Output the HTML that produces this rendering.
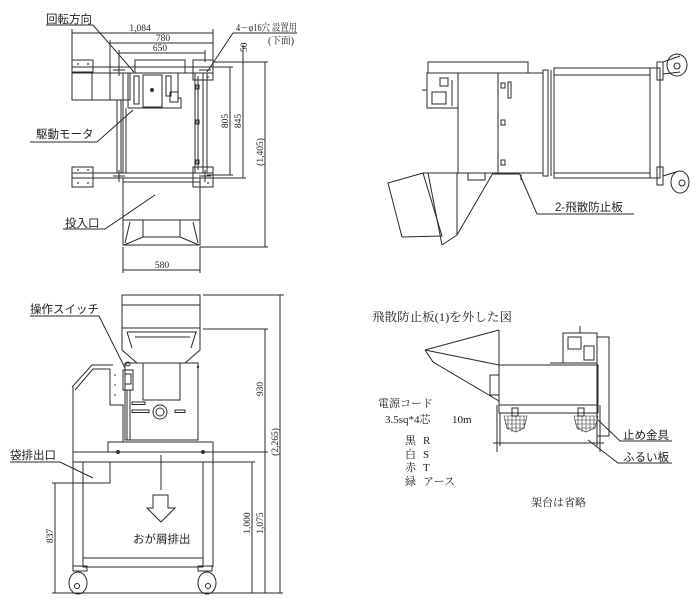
<!DOCTYPE html>
<html><head><meta charset="utf-8">
<style>
html,body{margin:0;padding:0;background:#fff;}
svg{display:block;}
.j{font-family:"Liberation Sans","Noto Sans CJK JP",sans-serif;font-size:11.5px;fill:#222;}
.m{font-family:"Liberation Serif","Noto Serif CJK SC",serif;font-size:11px;fill:#222;}
.d{font-family:"Liberation Serif",serif;font-size:9.5px;fill:#222;}
</style></head>
<body>
<svg width="700" height="599" viewBox="0 0 700 599" xmlns="http://www.w3.org/2000/svg">
<rect width="700" height="599" fill="#fff"/>

<!-- ================= TOP-LEFT PLAN VIEW ================= -->
<g stroke="#2a2a2a" stroke-width="1" fill="none">
  <line x1="72" y1="33" x2="213" y2="33"/>
  <line x1="110" y1="43" x2="213" y2="43"/>
  <line x1="119" y1="53" x2="205" y2="53"/>
  <line x1="72" y1="29" x2="72" y2="60"/>
  <line x1="213" y1="29" x2="213" y2="60"/>
  <line x1="110" y1="40" x2="110" y2="76"/>
  <line x1="119" y1="50" x2="119" y2="76"/>
  <line x1="205" y1="50" x2="205" y2="62"/>
  <line x1="213" y1="62" x2="268" y2="62"/>
  <line x1="207" y1="67" x2="233" y2="67"/>
  <line x1="207" y1="175" x2="233" y2="175"/>
  <line x1="210" y1="178" x2="246" y2="178"/>
  <line x1="200" y1="247" x2="268" y2="247"/>
  <line x1="230" y1="67" x2="230" y2="175"/>
  <line x1="243" y1="45" x2="243" y2="178"/>
  <line x1="265" y1="62" x2="265" y2="247"/>
  <line x1="123" y1="247" x2="123" y2="273"/>
  <line x1="200" y1="247" x2="200" y2="273"/>
  <line x1="123" y1="270" x2="200" y2="270"/>

  <polyline points="46,25 93,25 134,72"/>
  <polyline points="297,33 233,33 207,72"/>
  <polyline points="30,142 97,142 133,110"/>
  <polyline points="63,229 105,229 155,195"/>

  <rect x="72" y="60" width="21" height="12"/>
  <line x1="72" y1="67" x2="213" y2="67"/>
  <line x1="72" y1="73" x2="213" y2="73"/>
  <rect x="135" y="60" width="50" height="13"/>
  <rect x="193" y="60" width="20" height="20"/>
  <rect x="72" y="73" width="58" height="27"/>
  <line x1="92" y1="73" x2="92" y2="100"/>
  <line x1="110" y1="73" x2="110" y2="100"/>
  <rect x="123" y="73" width="80" height="100"/>
  <line x1="128" y1="73" x2="128" y2="108"/>
  <line x1="178" y1="73" x2="178" y2="98"/>
  <polyline points="178,98 181,98 181,108 128,108"/>
  <line x1="126" y1="108" x2="126" y2="173"/>
  <line x1="117" y1="100" x2="117" y2="173"/>
  <line x1="121" y1="100" x2="121" y2="173"/>
  <line x1="195" y1="73" x2="195" y2="173"/>
  <line x1="198" y1="76" x2="198" y2="170"/>
  <line x1="207" y1="73" x2="207" y2="173"/>
  <rect x="143" y="75" width="19" height="32"/>
  <rect x="134" y="76" width="5" height="28"/>
  <rect x="166" y="76" width="5" height="20"/>
  <rect x="170" y="92" width="8" height="10"/>
  <rect x="196" y="85" width="3" height="4"/>
  <rect x="196" y="120" width="3" height="4"/>
  <rect x="196" y="160" width="3" height="4"/>
  <line x1="72" y1="173" x2="213" y2="173"/>
  <line x1="72" y1="178" x2="213" y2="178"/>
  <rect x="72" y="167" width="21" height="20"/>
  <rect x="193" y="167" width="20" height="20"/>
  <line x1="113" y1="70" x2="125" y2="70"/><line x1="119" y1="64" x2="119" y2="76"/>
  <line x1="199" y1="70" x2="211" y2="70"/>
  <line x1="113" y1="176" x2="125" y2="176"/><line x1="119" y1="170" x2="119" y2="182"/>
  <line x1="199" y1="176" x2="211" y2="176"/><line x1="205" y1="170" x2="205" y2="182"/>

  <rect x="123" y="178" width="77" height="42"/>
  <line x1="123" y1="182" x2="200" y2="182"/>
  <rect x="123" y="220" width="77" height="25"/>
  <polyline points="143,220 143,237 180,237 180,220"/>
  <line x1="143" y1="237" x2="124" y2="245"/>
  <line x1="180" y1="237" x2="199" y2="245"/>
  <line x1="130" y1="222" x2="125" y2="243"/>
  <line x1="193" y1="222" x2="198" y2="243"/>
</g>
<g fill="#333">
  <circle cx="152" cy="90" r="2"/>
  <circle cx="78" cy="64" r="0.9"/><circle cx="88" cy="64" r="0.9"/>
  <circle cx="78" cy="183" r="0.9"/><circle cx="88" cy="183" r="0.9"/>
  <circle cx="78" cy="170" r="0.9"/><circle cx="88" cy="170" r="0.9"/>
  <circle cx="208" cy="77" r="0.9"/><circle cx="208" cy="183" r="0.9"/>
</g>
<text class="j" x="46" y="23">回転方向</text>
<text class="d" x="140" y="31" text-anchor="middle">1,084</text>
<text class="d" x="163" y="41" text-anchor="middle">780</text>
<text class="d" x="160" y="51" text-anchor="middle">650</text>
<text class="m" x="236" y="31" style="font-size:10px" textLength="61" lengthAdjust="spacingAndGlyphs">4－φ16穴 設置用</text>
<text class="m" x="268" y="44" style="font-size:10px" textLength="26" lengthAdjust="spacingAndGlyphs">(下面)</text>
<text class="d" transform="translate(247,52) rotate(-90)">50</text>
<text class="d" transform="translate(228,121) rotate(-90)" text-anchor="middle">805</text>
<text class="d" transform="translate(241,121) rotate(-90)" text-anchor="middle">845</text>
<text class="d" transform="translate(263,152) rotate(-90)" text-anchor="middle">(1,405)</text>
<text class="d" x="162" y="268" text-anchor="middle">580</text>
<text class="j" x="36" y="138">駆動モータ</text>
<text class="j" x="65" y="227">投入口</text>

<!-- ================= BOTTOM-LEFT FRONT VIEW ================= -->
<g stroke="#2a2a2a" stroke-width="1" fill="none">
  <rect x="122" y="295" width="78" height="33"/>
  <line x1="122" y1="305" x2="200" y2="305"/>
  <polyline points="122,328 122,350 137,363 185,363 200,350 200,328"/>
  <line x1="127" y1="332" x2="197" y2="332"/>
  <line x1="135" y1="337" x2="190" y2="337"/>
  <line x1="127" y1="332" x2="132" y2="348"/>
  <line x1="196" y1="332" x2="191" y2="348"/>
  <rect x="125" y="363" width="73" height="77"/>
  <polyline points="143,363 143,400 180,400 180,363"/>
  <polyline points="72,387 92,365 113,365"/>
  <polyline points="75,390 93,369 110,369"/>
  <polyline points="110,369 110,405 123,405 123,442"/>
  <line x1="73" y1="387" x2="73" y2="452"/>
  <rect x="123" y="370" width="10" height="20"/>
  <rect x="125" y="374" width="6" height="10"/>
  <line x1="127" y1="390" x2="127" y2="440"/>
  <line x1="130" y1="390" x2="130" y2="440"/>
  <circle cx="128" cy="364" r="2"/>
  <circle cx="160" cy="412" r="7"/>
  <circle cx="160" cy="412" r="4"/>
  <rect x="132" y="402" width="13" height="2.5"/>
  <rect x="132" y="410" width="17" height="2.5"/>
  <rect x="175" y="410" width="10" height="2.5"/>
  <rect x="108" y="442" width="105" height="10"/>
  <rect x="73" y="452" width="140" height="10"/>
  <line x1="73" y1="462" x2="73" y2="567"/>
  <line x1="83" y1="462" x2="83" y2="567"/>
  <line x1="203" y1="462" x2="203" y2="567"/>
  <line x1="213" y1="462" x2="213" y2="567"/>
  <rect x="83" y="558" width="120" height="9"/>
  <polyline points="73,483 110,483 110,462"/>
  <line x1="161" y1="455" x2="161" y2="490"/>
  <polygon points="153,495 168,495 168,508 175,508 161,522 147,508 153,508"/>
  <rect x="73" y="566" width="14" height="5"/>
  <rect x="198" y="566" width="14" height="5"/>
  <ellipse cx="78" cy="583" rx="9" ry="11"/>
  <circle cx="77" cy="586" r="2.5"/>
  <ellipse cx="207" cy="583" rx="9" ry="11"/>
  <circle cx="208" cy="586" r="2.5"/>
  <line x1="203" y1="295" x2="284" y2="295"/>
  <line x1="203" y1="329" x2="268" y2="329"/>
  <line x1="213" y1="452" x2="268" y2="452"/>
  <line x1="213" y1="462" x2="255" y2="462"/>
  <line x1="52" y1="593" x2="283" y2="593"/>
  <line x1="265" y1="329" x2="265" y2="452"/>
  <line x1="280" y1="295" x2="280" y2="593"/>
  <line x1="252" y1="462" x2="252" y2="593"/>
  <line x1="265" y1="452" x2="265" y2="593"/>
  <line x1="55" y1="483" x2="55" y2="593"/>
  <line x1="52" y1="483" x2="73" y2="483"/>
  <polyline points="30,316 99,316 125,368"/>
  <polyline points="10,462 60,462 93,478"/>
</g>
<g fill="#333">
  <circle cx="118" cy="452" r="2"/><circle cx="203" cy="452" r="2"/>
  <circle cx="198" cy="367" r="1.2"/>
  <circle cx="115" cy="375" r="0.8"/><circle cx="115" cy="385" r="0.8"/><circle cx="115" cy="395" r="0.8"/>
</g>
<text class="j" x="30" y="313">操作スイッチ</text>
<text class="j" x="10" y="459">袋排出口</text>
<text class="j" x="133" y="543">おが屑排出</text>
<text class="d" transform="translate(263,389) rotate(-90)" text-anchor="middle">930</text>
<text class="d" transform="translate(278,442) rotate(-90)" text-anchor="middle">(2,265)</text>
<text class="d" transform="translate(250,523) rotate(-90)" text-anchor="middle">1,000</text>
<text class="d" transform="translate(263,523) rotate(-90)" text-anchor="middle">1,075</text>
<text class="d" transform="translate(53,536) rotate(-90)" text-anchor="middle">837</text>

<!-- ================= TOP-RIGHT SIDE VIEW ================= -->
<g stroke="#2a2a2a" stroke-width="1" fill="none">
  <polyline points="428,73 428,62 528,62 528,73"/>
  <rect x="427" y="73" width="31" height="35"/>
  <rect x="432" y="92" width="14" height="12"/>
  <rect x="440" y="78" width="8" height="8"/>
  <line x1="452" y1="80" x2="452" y2="106"/>
  <line x1="422" y1="90" x2="427" y2="90"/>
  <rect x="458" y="73" width="85" height="100"/>
  <line x1="498" y1="73" x2="498" y2="173"/>
  <rect x="501" y="83" width="4" height="5"/>
  <rect x="501" y="120" width="4" height="5"/>
  <rect x="501" y="160" width="4" height="5"/>
  <rect x="508" y="82" width="3" height="16"/>
  <rect x="543" y="70" width="5" height="106"/>
  <line x1="551" y1="70" x2="551" y2="176"/>
  <rect x="554" y="68" width="106" height="110"/>
  <line x1="554" y1="75" x2="650" y2="75"/>
  <line x1="554" y1="173" x2="650" y2="173"/>
  <line x1="650" y1="68" x2="650" y2="178"/>
  <rect x="657" y="62" width="6" height="18"/>
  <rect x="657" y="167" width="6" height="18"/>
  <ellipse cx="677" cy="65" rx="10" ry="11"/>
  <circle cx="677" cy="66" r="3"/>
  <path d="M663,62 L680,56 M663,74 L680,72"/>
  <ellipse cx="680" cy="182" rx="9" ry="11"/>
  <circle cx="682" cy="183" r="3"/>
  <line x1="663" y1="176" x2="676" y2="172"/>
  <polygon points="388,183 423,173 442,236 402,237"/>
  <line x1="428" y1="173" x2="442" y2="245"/>
  <line x1="442" y1="245" x2="457" y2="235"/>
  <line x1="457" y1="173" x2="457" y2="235"/>
  <line x1="457" y1="235" x2="493" y2="173"/>
  <line x1="423" y1="173" x2="458" y2="173"/>
  <polyline points="468,173 468,180 485,180 485,173"/>
  <line x1="493" y1="174" x2="520" y2="174"/>
  <line x1="521" y1="174" x2="521" y2="180"/>
  <polyline points="520,175 537,214 634,214"/>
</g>
<text class="j" x="555" y="211">2-飛散防止板</text>

<!-- ================= BOTTOM-RIGHT VIEW ================= -->
<g stroke="#2a2a2a" stroke-width="1" fill="none">
  <line x1="425" y1="350" x2="499" y2="330"/>
  <line x1="425" y1="350" x2="499" y2="365"/>
  <polyline points="425,350 433,362 499,401"/>
  <line x1="499" y1="330" x2="499" y2="405"/>
  <rect x="499" y="365" width="99" height="40"/>
  <rect x="490" y="375" width="9" height="20"/>
  <rect x="563" y="333" width="34" height="30"/>
  <rect x="568" y="337" width="13" height="12"/>
  <rect x="584" y="346" width="10" height="14"/>
  <line x1="580" y1="326" x2="580" y2="333"/>
  <rect x="597" y="337" width="12" height="99"/>
  <line x1="550" y1="363" x2="597" y2="363"/>
  <rect x="499" y="405" width="99" height="8"/>
  <line x1="497" y1="405" x2="497" y2="452"/>
  <line x1="500" y1="413" x2="500" y2="446"/>
  <line x1="597" y1="413" x2="597" y2="446"/>
  <line x1="600" y1="405" x2="600" y2="452"/>
  <line x1="500" y1="443" x2="597" y2="443"/>
  <line x1="493" y1="443" x2="500" y2="443"/>
  <line x1="597" y1="443" x2="604" y2="443"/>
  <rect x="512" y="408" width="6" height="8"/>
  <rect x="578" y="408" width="6" height="8"/>
  <polyline points="598,420 620,441 672,441"/>
  <polyline points="588,440 618,463 672,463"/>
</g>
<g stroke="#333" stroke-width="0.6" fill="none">
  <path d="M504,416 L527,416 L524,428 L516,432 L507,428 Z"/>
  <path d="M508,416 V430 M512,416 V432 M516,416 V432 M520,416 V431 M524,416 V429 M504,420 H527 M505,424 H526 M506,428 H524"/>
  <path d="M574,416 L598,416 L595,428 L586,432 L577,428 Z"/>
  <path d="M578,416 V430 M582,416 V432 M586,416 V432 M590,416 V431 M594,416 V429 M574,420 H598 M575,424 H597 M577,428 H595"/>
</g>
<text class="m" x="372" y="321" style="font-size:12px" textLength="140" lengthAdjust="spacingAndGlyphs">飛散防止板(1)を外した図</text>
<text class="m" x="378" y="407">電源コード</text>
<text class="m" x="385" y="423">3.5sq*4芯</text>
<text class="m" x="452" y="423">10m</text>
<text class="m" x="405" y="444">黒</text><text class="m" x="423" y="444">R</text>
<text class="m" x="405" y="458">白</text><text class="m" x="423" y="458">S</text>
<text class="m" x="405" y="471">赤</text><text class="m" x="423" y="471">T</text>
<text class="m" x="405" y="485">緑</text><text class="m" x="423" y="485">アース</text>
<text class="j" x="623" y="439">止め金具</text>
<text class="j" x="623" y="461">ふるい板</text>
<text class="m" x="531" y="506">架台は省略</text>
</svg>
</body></html>
